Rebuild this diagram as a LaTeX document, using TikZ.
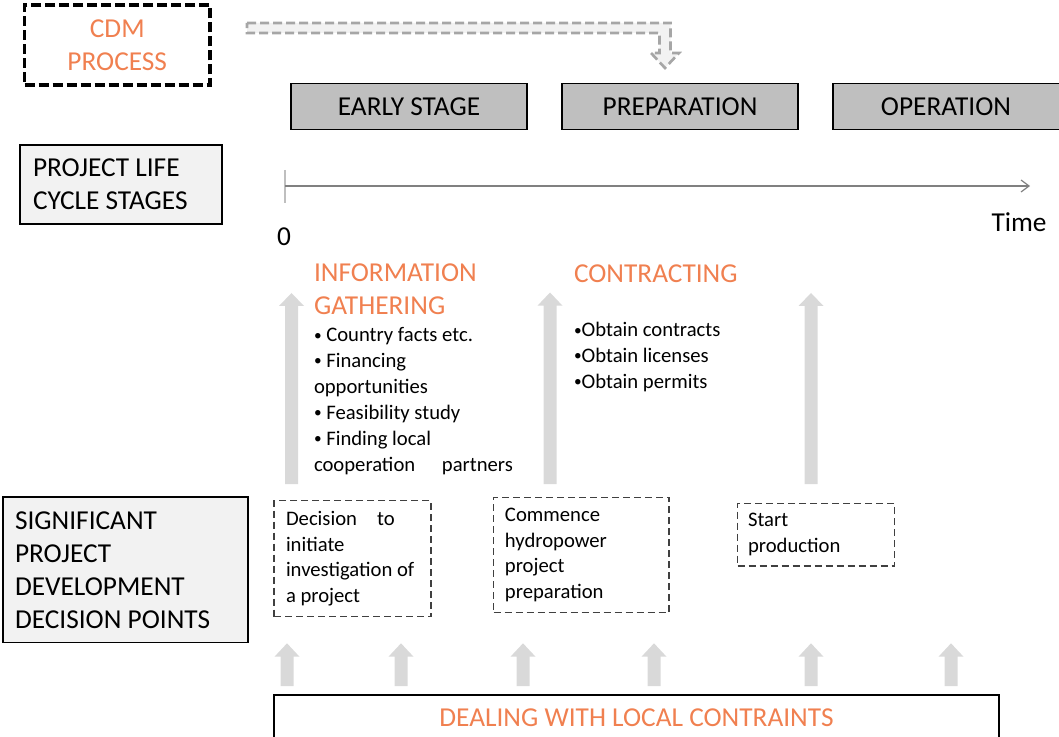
\documentclass[tikz,border=0pt]{standalone}
\usepackage{fontspec}
\setmainfont{Carlito}
\usetikzlibrary{arrows.meta}
\definecolor{orng}{RGB}{240,128,80}
\definecolor{stagegray}{RGB}{191,191,191}
\definecolor{lightbox}{RGB}{242,242,242}
\definecolor{arrowgray}{RGB}{217,217,217}
\definecolor{dashgray}{RGB}{166,166,166}
\definecolor{linegray}{RGB}{128,128,128}
\definecolor{tickgray}{RGB}{191,191,191}
\definecolor{darkdash}{RGB}{64,64,64}
\newcommand\headfont{\fontsize{20.5}{24.75}\selectfont}
\newcommand\bodyfont{\fontsize{15.5}{19.4}\selectfont}
\newcommand\smbul{\raisebox{1.2pt}{\fontsize{11.5}{11.5}\selectfont •}}
\newcommand\blockup[4]{%
  \fill[arrowfill] (#1-6.5,#4) -- (#1-6.5,#3) -- (#1-12.5,#3) -- (#1,#2) -- (#1+12.5,#3) -- (#1+6.5,#3) -- (#1+6.5,#4) -- cycle;}
\begin{document}
\begin{tikzpicture}[x=0.75pt,y=-0.75pt,
  every node/.style={inner sep=0pt, outer sep=0pt},
  arrowfill/.style={fill=arrowgray},
  stagebox/.style={draw=black, line width=0.9pt, fill=stagegray, minimum width=177pt, minimum height=34.5pt, font=\headfont},
  infobox/.style={draw=black, line width=0.9pt, fill=lightbox, font=\headfont, align=flush left},
  decbox/.style={draw=darkdash, line width=1pt, dash pattern=on 5.25pt off 3pt, font=\bodyfont, align=flush left},
  cdmbox/.style={draw=black, line width=2.4pt, dash pattern=on 7.5pt off 3pt, font=\headfont, text=orng, align=center},
  cdmarrow/.style={draw=dashgray, line width=2pt, dash pattern=on 6.75pt off 3pt, fill=lightbox},
  timeline/.style={draw=linegray, line width=0.9pt, -{Straight Barb[length=6pt,width=9pt]}},
  tickline/.style={draw=tickgray, line width=0.9pt},
  heading/.style={font=\headfont, text=orng},
  bullets/.style={font=\bodyfont, align=left},
  bottombox/.style={draw=black, line width=1.1pt, font=\headfont, text=orng}
]
\useasboundingbox (0,0) rectangle (1059,737);

% CDM process
\node[cdmbox, minimum width=139.1pt, minimum height=60pt] (cdm) at (117.25,45) {CDM\\PROCESS};
\draw[cdmarrow] (247,23) -- (670.5,23) -- (670.5,53) -- (679,53) -- (665,68) -- (651,53) -- (659.5,53) -- (659.5,33) -- (247,33) -- cycle;

% stages
\node[stagebox] (early) at (409,106.3) {EARLY STAGE};
\node[stagebox] (prep) at (680,106.3) {PREPARATION};
\node[stagebox] (oper) at (951,106.3) {OPERATION\hspace*{7.5pt}};

% project life cycle
\node[infobox, minimum width=151.5pt, minimum height=59.25pt, text width=132pt, inner xsep=9.75pt] (plc) at (121,184.5) {PROJECT LIFE\\CYCLE STAGES};
\coordinate (t0) at (285,186);
\coordinate (t1) at (1030,186);
\coordinate (tk1) at (285,170);
\coordinate (tk2) at (285,203);
\draw[tickline] (tk1) -- (tk2);
\draw[timeline] (t0) -- (t1);
\node[font=\headfont, anchor=base] (zero) at (284,245.5) {0};
\node[font=\headfont, anchor=base] (time) at (1019,231.7) {Time};

% big arrows
\blockup{291.5}{293}{306}{484}
\blockup{550}{292.5}{305.7}{484}
\blockup{811}{293}{306}{484}

% information gathering
\node[heading, anchor=north west, align=left] (infohd) at (314,262.7) {\rule{0pt}{14.25pt}INFORMATION\\GATHERING};
\node[bullets, anchor=north west] (infolist) at (314,326.7) {\rule{0pt}{11.25pt}\smbul\ Country facts etc.\\\smbul\ Financing\\opportunities\\\smbul\ Feasibility study\\\smbul\ Finding local\\cooperation\hspace*{20pt}partners};

% contracting
\node[heading, anchor=base west] (conhd) at (574,282.3) {CONTRACTING};
\node[bullets, anchor=north west] (conlist) at (574,321.7) {\rule{0pt}{11.25pt}\smbul Obtain contracts\\\smbul Obtain licenses\\\smbul Obtain permits};

% decision points
\node[infobox, minimum width=183.75pt, minimum height=109.3pt, text width=165.75pt, inner xsep=9pt] (sig) at (125.5,569.8) {SIGNIFICANT\\PROJECT\\DEVELOPMENT\\DECISION POINTS};
\node[decbox, minimum width=117.75pt, minimum height=87pt, text width=99.75pt, inner xsep=9pt] (d1) at (352.5,558.7) {Decision\hspace*{15pt}to\\initiate\\investigation of\\a project};
\node[decbox, minimum width=131.6pt, minimum height=86.5pt, text width=114.4pt, inner xsep=8.6pt] (d2) at (581.25,555) {Commence\\hydropower\\project\\preparation};
\node[decbox, minimum width=117.75pt, minimum height=47pt, text width=101.95pt, inner xsep=7.9pt] (d3) at (816,534.7) {Start\\production};

% small arrows
\blockup{287}{643.3}{656.7}{686}
\blockup{401}{643.3}{656.7}{686}
\blockup{523}{643.3}{656.7}{686}
\blockup{654}{643.3}{656.7}{686}
\blockup{811}{643.3}{656.7}{686}
\blockup{951}{643.3}{656.7}{686}

% bottom
\node[bottombox, minimum width=543.75pt, minimum height=33.75pt] (local) at (636.5,717.5) {DEALING WITH LOCAL CONTRAINTS};
\end{tikzpicture}
\end{document}
